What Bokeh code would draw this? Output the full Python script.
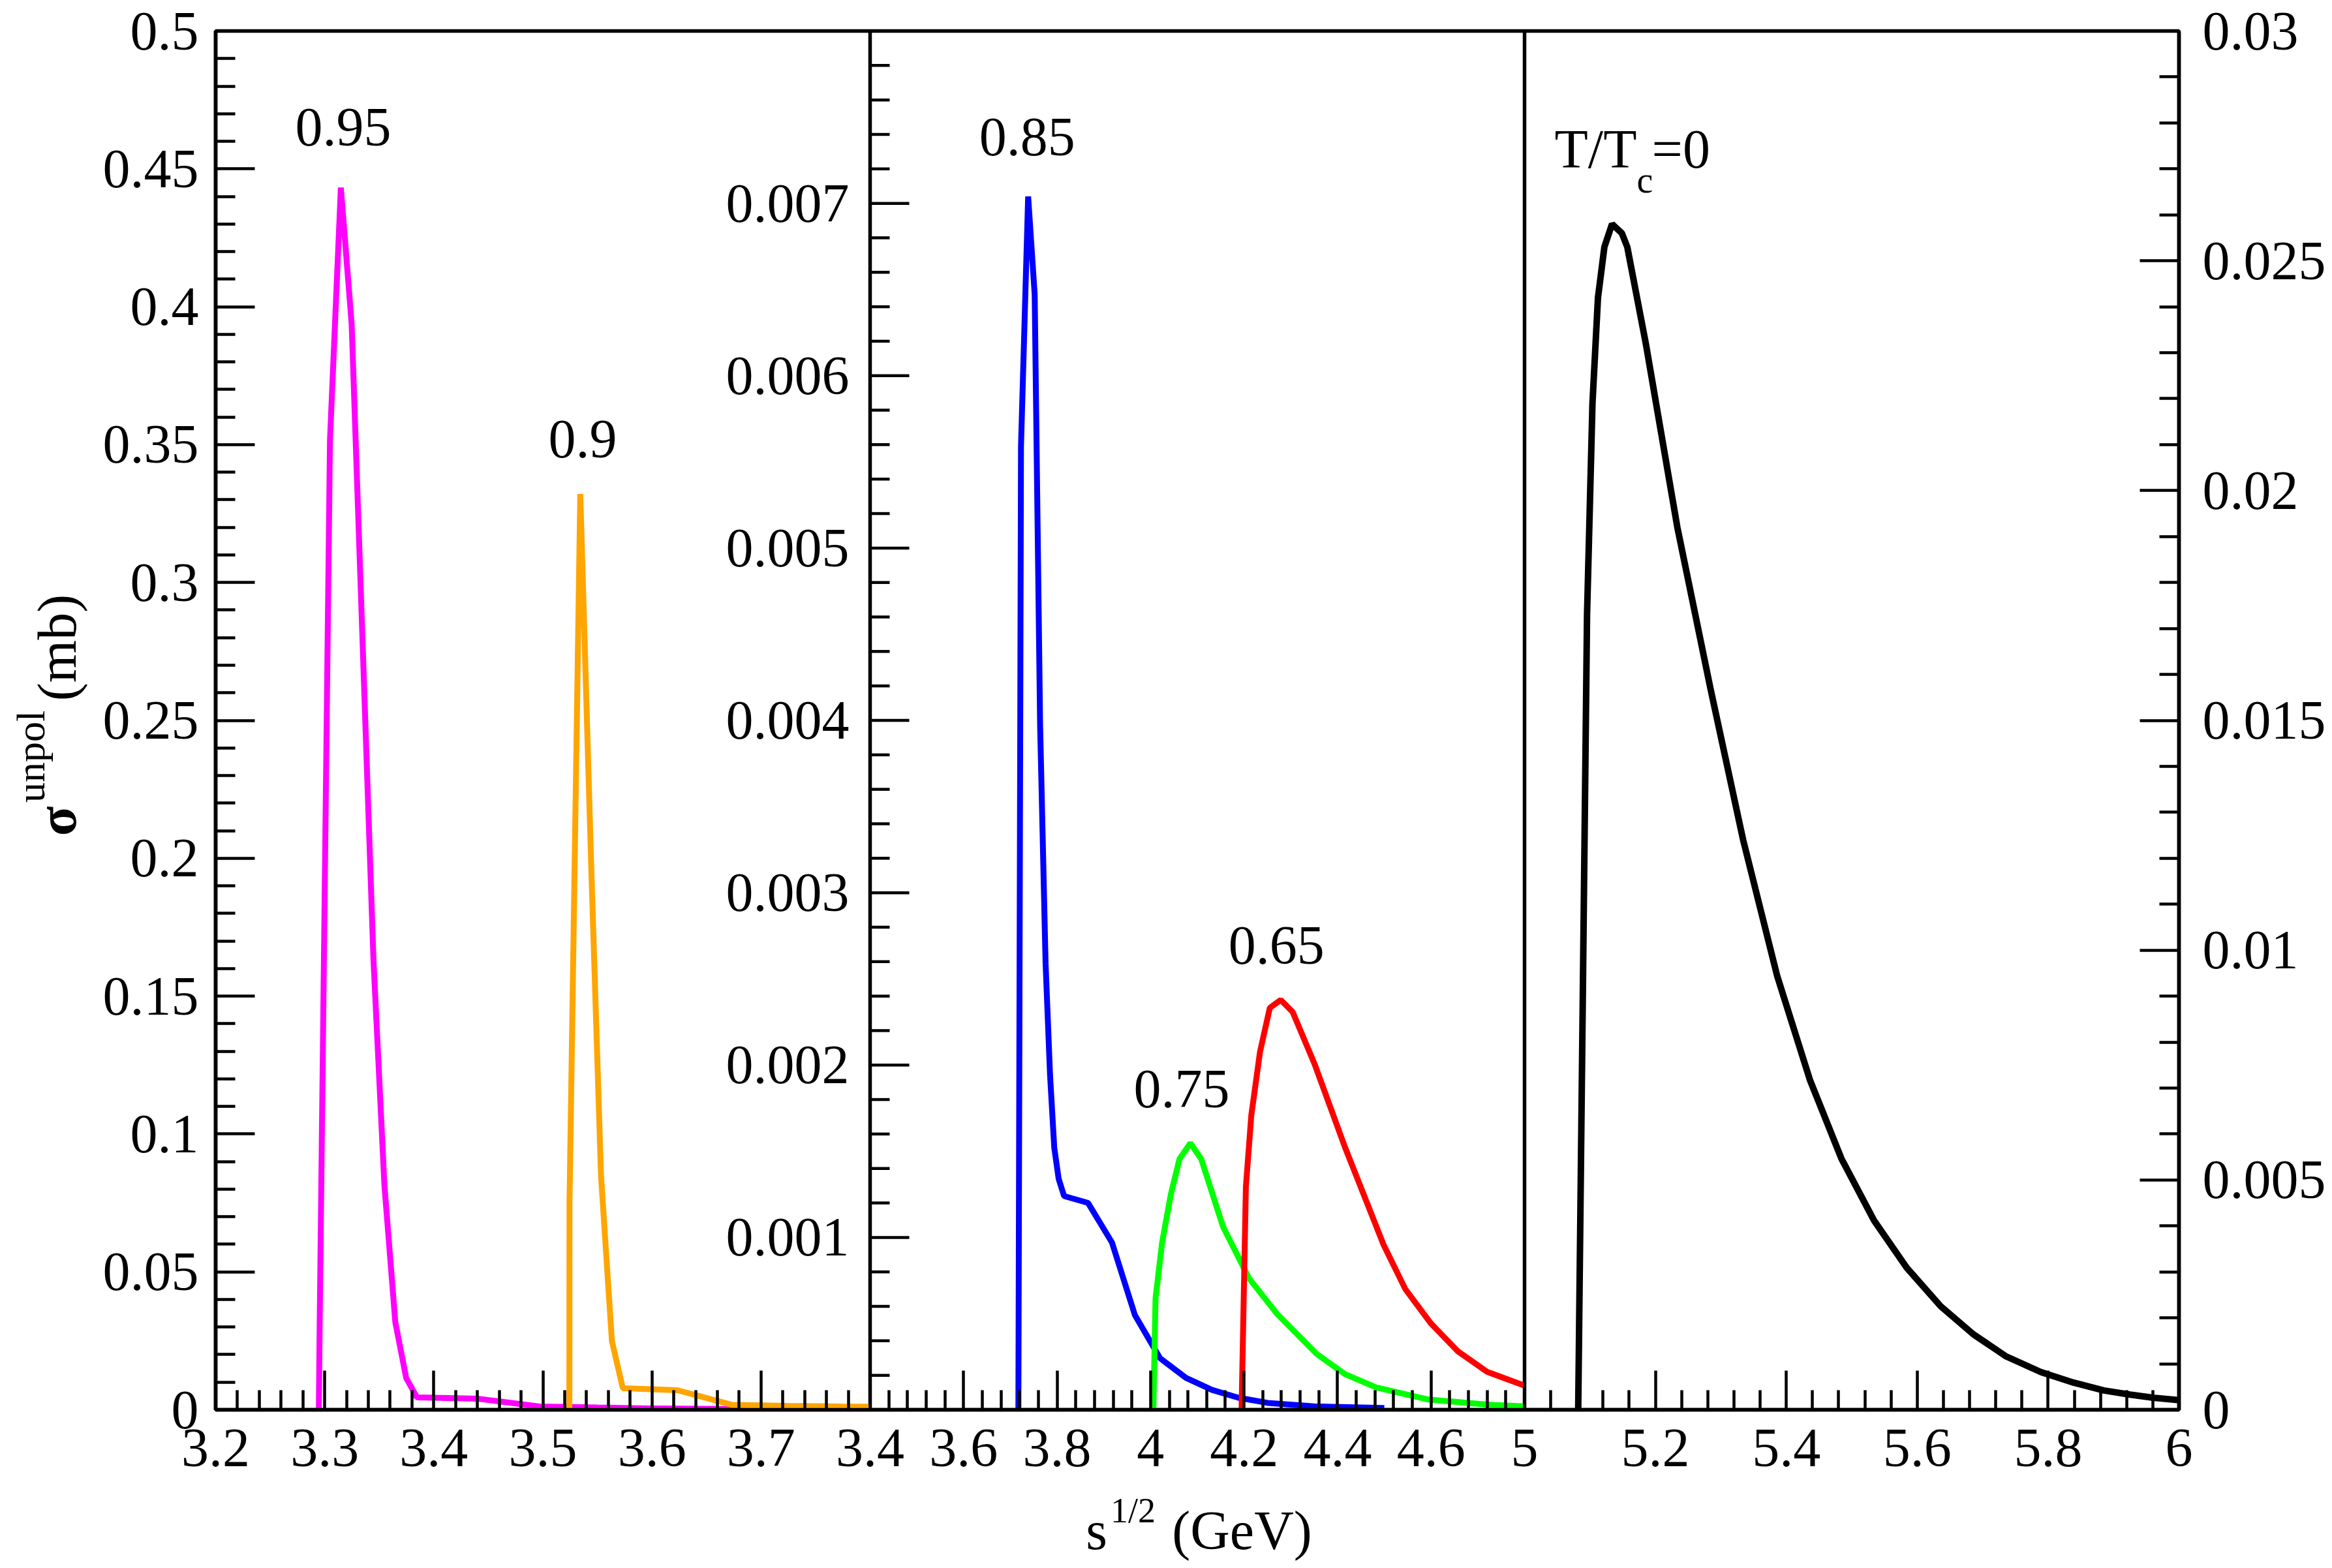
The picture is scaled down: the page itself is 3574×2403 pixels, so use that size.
from math import pi
from bokeh.plotting import figure
from bokeh.layouts import row, column
from bokeh.models import Range1d, LinearAxis, FixedTicker
from bokeh.core.properties import value
from bokeh.embed import file_html
from bokeh.resources import INLINE

# three panels side by side: s^1/2 limits (GeV) and sigma limits (mb)
panel_x = [(3.2, 3.8), (3.4, 4.8), (5.0, 6.0)]
panel_y = [(0, 0.5), (0, 0.008), (0, 0.03)]

# T/Tc = 0.95  (left panel)
x095 = [3.2946, 3.2954, 3.3048, 3.3148, 3.3247, 3.3447, 3.3547, 3.3647, 3.3747,
        3.3846, 3.4407, 3.497, 3.55, 3.6, 3.7, 3.8]
y095 = [0, 0.032, 0.3515, 0.4432, 0.3937, 0.1631, 0.0816, 0.0318, 0.0115,
        0.0045, 0.004, 0.0012, 0.0008, 0.0005, 0.0002, 0.0001]
# T/Tc = 0.9  (left panel)
x09 = [3.5243, 3.5244, 3.5343, 3.5443, 3.5533, 3.5633, 3.5733, 3.6233, 3.6733,
       3.7233, 3.7733, 3.8]
y09 = [0, 0.0746, 0.3321, 0.1975, 0.0849, 0.0249, 0.0078, 0.0071, 0.0018,
       0.0014, 0.0012, 0.0011]
# T/Tc = 0.85  (middle panel)
x085 = [3.7172, 3.7228, 3.7381, 3.7521, 3.7637, 3.7754, 3.785, 3.794, 3.8034,
        3.815, 3.8663, 3.9175, 3.9664, 4.02, 4.0758, 4.1317, 4.1876, 4.25, 4.35, 4.5]
y085 = [0, 0.00559, 0.00704, 0.00647, 0.00397, 0.00259, 0.00194, 0.00152, 0.00134,
        0.00124, 0.0012, 0.00097, 0.00055, 0.0003, 0.000185, 0.000115, 0.00007,
        0.00004, 0.00002, 0.00001]
# T/Tc = 0.75  (middle panel)
x075 = [4.006, 4.0106, 4.0246, 4.0432, 4.0618, 4.0851, 4.1084, 4.155, 4.2108,
        4.2714, 4.3553, 4.4158, 4.482, 4.593, 4.72, 4.8]
y075 = [0, 0.000646, 0.000969, 0.001247, 0.001455, 0.001547, 0.001455, 0.001062,
        0.000762, 0.000554, 0.000324, 0.000207, 0.00013, 0.00006, 0.00003, 0.00002]
# T/Tc = 0.65  (middle panel)
x065 = [4.1946, 4.2039, 4.2155, 4.2342, 4.2551, 4.2784, 4.304, 4.3506, 4.4158,
        4.498, 4.545, 4.6, 4.657, 4.72, 4.8]
y065 = [0, 0.001294, 0.001709, 0.002078, 0.002332, 0.002378, 0.002308, 0.002008,
        0.001524, 0.00096, 0.0007, 0.0005, 0.00034, 0.00022, 0.00014]
# T/Tc = 0  (right panel)
x0 = [5.082, 5.0955, 5.1038, 5.1122, 5.122, 5.1337, 5.1487, 5.157, 5.1853, 5.2335,
      5.284, 5.334, 5.386, 5.436, 5.484, 5.534, 5.584, 5.636, 5.686, 5.736, 5.789,
      5.839, 5.885, 5.925, 5.962, 6.0]
y0 = [0, 0.0173, 0.0219, 0.0242, 0.0253, 0.0258, 0.0256, 0.0253, 0.0232, 0.0192,
      0.0157, 0.0124, 0.00944, 0.00718, 0.00547, 0.00412, 0.00309, 0.00225, 0.00164,
      0.00116, 0.00082, 0.00059, 0.00042, 0.00033, 0.00026, 0.00021]

# tick values and labels
xl_ticks = [3.2, 3.3, 3.4, 3.5, 3.6, 3.7]
xl_labels = ["3.2", "3.3", "3.4", "3.5", "3.6", "3.7"]
xm_ticks = [3.4, 3.6, 3.8, 4.0, 4.2, 4.4, 4.6]
xm_labels = ["3.4", "3.6", "3.8", "4", "4.2", "4.4", "4.6"]
xr_ticks = [5.0, 5.2, 5.4, 5.6, 5.8, 6.0]
xr_labels = ["5", "5.2", "5.4", "5.6", "5.8", "6"]
yl_ticks = [0, 0.05, 0.1, 0.15, 0.2, 0.25, 0.3, 0.35, 0.4, 0.45, 0.5]
yl_labels = ["0", "0.05", "0.1", "0.15", "0.2", "0.25", "0.3", "0.35", "0.4", "0.45", "0.5"]
ym_ticks = [0.001, 0.002, 0.003, 0.004, 0.005, 0.006, 0.007]
ym_labels = ["0.001", "0.002", "0.003", "0.004", "0.005", "0.006", "0.007"]
yr_ticks = [0, 0.005, 0.01, 0.015, 0.02, 0.025, 0.03]
yr_labels = ["0", "0.005", "0.01", "0.015", "0.02", "0.025", "0.03"]

FONT = "Liberation Serif"

# page geometry (px)
YT_W = 150                 # strip holding the y title
BORDER_L, BORDER_R, BORDER_T, BORDER_B = 180, 222, 47, 124
FW, FH = 3009, 2113
PAGE_H = 2400
MAIN_H = BORDER_T + FH + BORDER_B
FX0 = YT_W + BORDER_L      # page x of the frame's left edge

p = figure(frame_width=FW, frame_height=FH,
           min_border_left=BORDER_L, min_border_right=BORDER_R,
           min_border_top=BORDER_T, min_border_bottom=BORDER_B,
           x_range=Range1d(0, 3), y_range=Range1d(*panel_y[0]),
           x_axis_type=None, y_axis_type=None,
           toolbar_location=None, output_backend="svg")
p.outline_line_color = "black"
p.outline_line_width = 5.5


def full_range(i):
    # each panel takes one third of the frame
    lo, hi = panel_x[i]
    w = hi - lo
    return Range1d(lo - i * w, hi + (2 - i) * w)


p.extra_x_ranges = {"L": full_range(0), "M": full_range(1), "R": full_range(2)}
p.extra_y_ranges = {"my": Range1d(*panel_y[1]), "ry": Range1d(*panel_y[2])}


def pos(v, i):
    lo, hi = panel_x[i]
    return i + (v - lo) / (hi - lo)


def style(ax, ticks, labels, minor, standoff):
    ax.ticker = FixedTicker(ticks=ticks, minor_ticks=minor)
    ax.major_label_overrides = dict(zip(ticks, labels))
    ax.axis_line_width = 5.5
    ax.major_tick_line_width = 4.5
    ax.minor_tick_line_width = 4.5
    ax.major_tick_in = 60
    ax.major_tick_out = 0
    ax.minor_tick_in = 30
    ax.minor_tick_out = 0
    ax.major_label_text_font = FONT
    ax.major_label_text_font_size = "84px"
    ax.major_label_text_color = "black"
    ax.major_label_standoff = standoff


# bottom axis: one axis, three tick sets
bx_ticks, bx_labels, bx_minor = [], [], []
for i, (tk, lb) in enumerate([(xl_ticks, xl_labels), (xm_ticks, xm_labels), (xr_ticks, xr_labels)]):
    for t, l in zip(tk, lb):
        bx_ticks.append(float(pos(t, i)))
        bx_labels.append(l)
for i, n in enumerate([30, 35, 25]):
    bx_minor += [i + k / n for k in range(1, n) if k % 5]
xaxis = LinearAxis()
style(xaxis, bx_ticks, bx_labels, bx_minor, 30)
p.add_layout(xaxis, "below")

yaxis = LinearAxis()
style(yaxis, yl_ticks, yl_labels, [k / 100 for k in range(1, 50) if k % 5], 26)
p.add_layout(yaxis, "left")

raxis = LinearAxis(y_range_name="ry")
style(raxis, yr_ticks, yr_labels, [k / 1000 for k in range(1, 30) if k % 5], 36)
p.add_layout(raxis, "right")

# panel separators and the middle panel's own y axis
p.vspan(x=[panel_x[1][0], panel_x[1][1]], x_range_name="M", line_color="black", line_width=5.5)
ym_minor = [k * 0.0002 for k in range(1, 40) if k % 5]
p.ray(x=[panel_x[1][0]] * len(ym_ticks), y=ym_ticks, length=60, length_units="screen",
      angle=0, x_range_name="M", y_range_name="my", line_color="black", line_width=4.5)
p.ray(x=[panel_x[1][0]] * len(ym_minor), y=ym_minor, length=30, length_units="screen",
      angle=0, x_range_name="M", y_range_name="my", line_color="black", line_width=4.5)
p.text(x=[panel_x[1][0]] * len(ym_ticks), y=ym_ticks, text=ym_labels, x_offset=-32,
       x_range_name="M", y_range_name="my", text_align="right", text_baseline="middle",
       text_font=value(FONT), text_font_size=value("84px"), text_color="black")

# curves
p.line(x095, y095, x_range_name="L", line_color="#ff00ff", line_width=9)
p.line(x09, y09, x_range_name="L", line_color="#ffa500", line_width=9)
p.line(x085, y085, x_range_name="M", y_range_name="my", line_color="#0000ff", line_width=9)
p.line(x075, y075, x_range_name="M", y_range_name="my", line_color="#00ff00", line_width=9)
p.line(x065, y065, x_range_name="M", y_range_name="my", line_color="#ff0000", line_width=9)
p.line(x0, y0, x_range_name="R", y_range_name="ry", line_color="black", line_width=10)

# curve labels
lab = dict(text_font=value(FONT), text_font_size=value("84px"), text_color="black",
           text_baseline="middle")
p.text(x=[3.317, 3.5365], y=[0.4651, 0.352], text=["0.95", "0.9"],
       x_range_name="L", text_align="center", **lab)
p.text(x=[3.7361, 4.0666, 4.2691], y=[0.007385, 0.00186, 0.002693],
       text=["0.85", "0.75", "0.65"], x_range_name="M", y_range_name="my",
       text_align="center", **lab)
p.text(x=[5.0459], y=[0.02743], text=["T/T"], x_range_name="R", y_range_name="ry",
       text_align="left", **lab)
p.text(x=[5.0459], y=[0.02743], text=["=0"], x_offset=149, x_range_name="R",
       y_range_name="ry", text_align="left", **lab)
p.text(x=[5.0459], y=[0.02743], text=["c"], x_offset=126, y_offset=47, x_range_name="R",
       y_range_name="ry", text_align="left", text_font=value(FONT),
       text_font_size=value("56px"), text_color="black", text_baseline="middle")


def strip(x0_, x1_, y0_, y1_):
    # blank figure whose data units are page pixels (y grows downward)
    f = figure(frame_width=int(x1_ - x0_), frame_height=int(y1_ - y0_),
               x_range=Range1d(x0_, x1_), y_range=Range1d(y1_, y0_),
               x_axis_type=None, y_axis_type=None, min_border=0,
               toolbar_location=None, output_backend="svg")
    f.outline_line_color = None
    f.xgrid.visible = False
    f.ygrid.visible = False
    return f


ttl = dict(text_font=value(FONT), text_color="black", text_align="center",
           text_baseline="middle")

# y title: sigma^unpol (mb), rotated
yt = strip(0, YT_W, 0, PAGE_H)
yt.text(x=[87], y=[1258], text=["σ"], angle=pi / 2, text_font_size=value("84px"),
        text_font_style="bold", **ttl)
yt.text(x=[46], y=[1159], text=["unpol"], angle=pi / 2, text_font_size=value("62px"), **ttl)
yt.text(x=[87], y=[992], text=["(mb)"], angle=pi / 2, text_font_size=value("84px"), **ttl)

# x title: s^1/2 (GeV); the strip's frame lines up with the main frame
xt = strip(FX0, FX0 + FW, MAIN_H, PAGE_H)
xt.text(x=[1680, 1903], y=[2345, 2345], text=["s", "(GeV)"], text_font_size=value("84px"), **ttl)
xt.text(x=[1736], y=[2314], text=["1/2"], text_font_size=value("54px"), **ttl)

layout = row(yt, column(p, xt))
open("out.html", "w").write(file_html(layout, INLINE))
